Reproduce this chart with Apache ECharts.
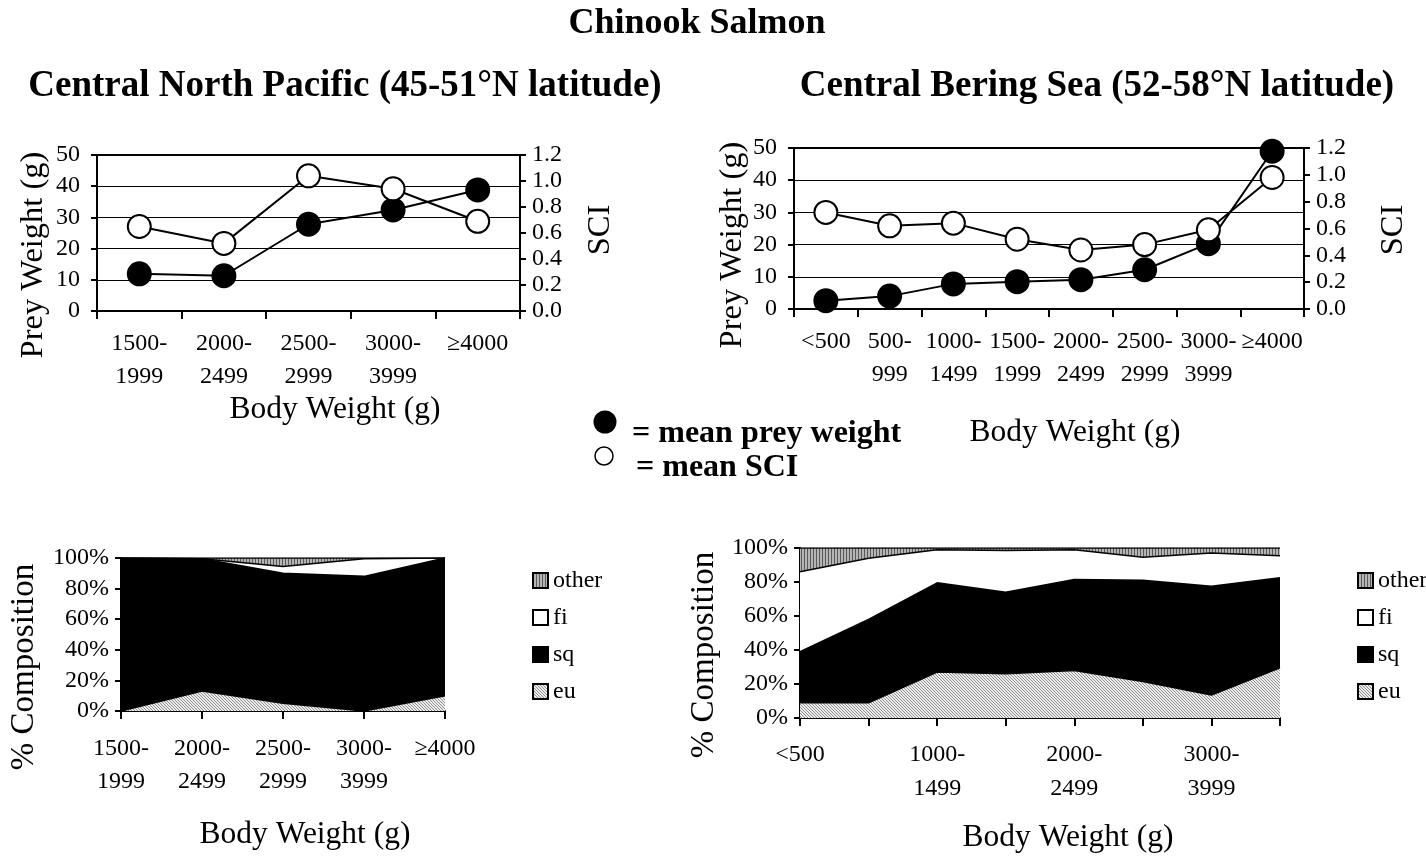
<!DOCTYPE html>
<html>
<head>
<meta charset="utf-8">
<script src="https://cdn.jsdelivr.net/npm/echarts@6/dist/echarts.min.js"></script>
<style>
  html, body { margin: 0; padding: 0; background: #fff; }
  #chart { width: 1426px; height: 861px; }
</style>
</head>
<body>
<div id="chart"></div>
<script>
// Body-weight classes (g)
const pacificCats = ['1500-\n1999', '2000-\n2499', '2500-\n2999', '3000-\n3999', '≥4000'];
const beringCats = ['<500', '500-\n999', '1000-\n1499', '1500-\n1999', '2000-\n2499', '2500-\n2999', '3000-\n3999', '≥4000'];

// Mean prey weight (g) and mean stomach content index
const pacificPrey = [11.9, 11.3, 27.8, 32.4, 38.8];
const pacificSci = [0.65, 0.52, 1.04, 0.94, 0.69];
const beringPrey = [2.6, 4.0, 7.8, 8.5, 9.1, 12.2, 20.3, 49.0];
const beringSci = [0.72, 0.62, 0.64, 0.52, 0.44, 0.48, 0.59, 0.98];

// Diet composition (% by weight)
const pacificEu = [0, 13, 5, 0, 10];
const pacificSq = [100, 86.5, 85, 88, 90];
const pacificFi = [0, 0, 4.5, 11.5, 0];
const pacificOther = [0, 0.5, 5.5, 0.5, 0];

const beringEu = [9, 9, 27, 26, 28, 21.5, 13.5, 29.5];
const beringSq = [30, 49, 52.5, 48, 53.5, 59.5, 64, 53];
const beringFi = [47, 36, 19.5, 24.5, 17.5, 13.5, 19.5, 13];
const beringOther = [14, 6, 1, 1.5, 1, 5.5, 3, 4.5];

const prey = ['eu', 'sq', 'fi', 'other'];

const FONT = '"Liberation Serif", "Times New Roman", serif';

// Fill patterns for hatched prey groups
function makePattern(w, h, bg, fg, pixels) {
  const c = document.createElement('canvas');
  c.width = w; c.height = h;
  const ctx = c.getContext('2d');
  ctx.fillStyle = bg; ctx.fillRect(0, 0, w, h);
  ctx.fillStyle = fg;
  pixels.forEach(p => ctx.fillRect(p[0], p[1], 1, 1));
  return { image: c, repeat: 'repeat' };
}
const euFill = makePattern(3, 3, '#eeeeee', '#8c8c8c', [[0, 0], [1, 1], [2, 2]]);
const otherFill = makePattern(3, 1, '#b4b4b4', '#5a5a5a', [[0, 0]]);
const fills = { eu: euFill, sq: '#000000', fi: '#ffffff', other: otherFill };

const chart = echarts.init(document.getElementById('chart'), null, { renderer: 'canvas' });

const tickFont = { color: '#000', fontFamily: FONT, fontSize: 24 };

function catAxis(gridIndex, data, opts) {
  return Object.assign({
    type: 'category', gridIndex, data,
    axisLine: { lineStyle: { color: '#000', width: 2 } },
    axisTick: { show: true, length: 8, inside: false, lineStyle: { color: '#000', width: 2 } },
    axisLabel: Object.assign({ margin: 16, lineHeight: 33, interval: 0 }, tickFont),
    splitLine: { show: false }
  }, opts || {});
}

function preyAxis(gridIndex) {
  return {
    type: 'value', gridIndex, min: 0, max: 50, interval: 10, position: 'left',
    axisLine: { show: true, lineStyle: { color: '#000', width: 2 } },
    axisTick: { show: true, length: 6, lineStyle: { color: '#000', width: 2 } },
    axisLabel: Object.assign({ margin: 17 }, tickFont),
    splitLine: { show: true, lineStyle: { color: '#000', width: 1 } }
  };
}

function sciAxis(gridIndex) {
  return {
    type: 'value', gridIndex, min: 0, max: 1.2, interval: 0.2, position: 'right',
    axisLine: { show: true, lineStyle: { color: '#000', width: 2 } },
    axisTick: { show: true, length: 6, lineStyle: { color: '#000', width: 2 } },
    axisLabel: Object.assign({ margin: 12, formatter: v => v.toFixed(1) }, tickFont),
    splitLine: { show: false }
  };
}

function pctAxis(gridIndex) {
  return {
    type: 'value', gridIndex, min: 0, max: 100, interval: 20,
    axisLine: { show: true, lineStyle: { color: '#000', width: 2 } },
    axisTick: { show: true, length: 6, lineStyle: { color: '#000', width: 2 } },
    axisLabel: Object.assign({ margin: 12, formatter: v => v + '%' }, tickFont),
    splitLine: { show: false }
  };
}

function meanSeries(name, data, xi, yi, filled) {
  return {
    type: 'line', name, data, xAxisIndex: xi, yAxisIndex: yi,
    symbol: 'circle', symbolSize: 23, showAllSymbol: true,
    lineStyle: { color: '#000', width: 2 },
    itemStyle: { color: filled ? '#000' : '#fff', borderColor: '#000', borderWidth: 2, opacity: 1 },
    emphasis: { disabled: true },
    animation: false
  };
}

function compSeries(name, data, xi, yi, stack) {
  return {
    type: 'line', name, data, xAxisIndex: xi, yAxisIndex: yi, stack,
    symbol: 'none', showSymbol: false,
    lineStyle: { color: '#000', width: 1.5 },
    areaStyle: { color: fills[name], opacity: 1 },
    itemStyle: { color: fills[name] },
    emphasis: { disabled: true },
    z: 2,
    animation: false
  };
}

const pacificComp = { eu: pacificEu, sq: pacificSq, fi: pacificFi, other: pacificOther };
const beringComp = { eu: beringEu, sq: beringSq, fi: beringFi, other: beringOther };

function legendFor(left) {
  return {
    orient: 'vertical', left, top: 563,
    icon: 'rect', itemWidth: 15, itemHeight: 15, itemGap: 12,
    selectedMode: false,
    textStyle: { color: '#000', fontFamily: FONT, fontSize: 24, lineHeight: 25 },
    data: ['other', 'fi', 'sq', 'eu'].map(n => ({
      name: n,
      itemStyle: { color: fills[n], borderColor: '#000', borderWidth: 2 }
    }))
  };
}

function label(text, x, y, size, bold, rotation) {
  return {
    type: 'text', x, y, rotation: rotation || 0, silent: true,
    style: {
      text, fill: '#000',
      font: (bold ? 'bold ' : '') + size + 'px ' + FONT,
      textAlign: 'center', textVerticalAlign: 'middle', align: 'center', verticalAlign: 'middle'
    }
  };
}

const UP = Math.PI / 2;

const option = {
  backgroundColor: '#fff',
  animation: false,
  grid: [
    { left: 97, right: 906, top: 155, height: 156, show: true, borderColor: '#000', borderWidth: 2, backgroundColor: 'transparent' },
    { left: 794, right: 122, top: 148, height: 161, show: true, borderColor: '#000', borderWidth: 2, backgroundColor: 'transparent' },
    { left: 121, right: 981, top: 558, height: 153 },
    { left: 800, right: 146, top: 548, height: 170 }
  ],
  xAxis: [
    catAxis(0, pacificCats, { boundaryGap: true }),
    catAxis(1, beringCats, { boundaryGap: true }),
    catAxis(2, pacificCats, { boundaryGap: false, axisLabel: Object.assign({ margin: 21, lineHeight: 33, interval: 0 }, tickFont),
      axisTick: { show: true, interval: 0, length: 8, lineStyle: { color: '#000', width: 2 } } }),
    catAxis(3, beringCats, { boundaryGap: false, axisLabel: Object.assign({ margin: 20, lineHeight: 34, interval: 1 }, tickFont),
      axisTick: { show: true, interval: 0, length: 8, lineStyle: { color: '#000', width: 2 } } })
  ],
  yAxis: [
    preyAxis(0),
    sciAxis(0),
    preyAxis(1),
    sciAxis(1),
    pctAxis(2),
    pctAxis(3)
  ],
  legend: [legendFor(527), legendFor(1352)],
  series: [
    meanSeries('mean prey weight', pacificPrey, 0, 0, true),
    meanSeries('mean SCI', pacificSci, 0, 1, false),
    meanSeries('mean prey weight', beringPrey, 1, 2, true),
    meanSeries('mean SCI', beringSci, 1, 3, false)
  ].concat(
    prey.map(p => compSeries(p, pacificComp[p], 2, 4, 'pacific')),
    prey.map(p => compSeries(p, beringComp[p], 3, 5, 'bering'))
  ),
  graphic: [
    label('Chinook Salmon', 697, 24, 36, true),
    label('Central North Pacific (45-51°N latitude)', 345, 86, 37, true),
    label('Central Bering Sea (52-58°N latitude)', 1097, 86, 37, true),
    // axis titles
    label('Prey Weight (g)', 33, 255, 32.5, false, UP),
    label('SCI', 600, 230, 32.5, false, UP),
    label('Prey Weight (g)', 732, 245, 32.5, false, UP),
    label('SCI', 1393, 230, 32.5, false, UP),
    label('% Composition', 24, 667, 33, false, UP),
    label('% Composition', 704, 655, 33, false, UP),
    label('Body Weight (g)', 335, 410, 31.5, false),
    label('Body Weight (g)', 1075, 433, 31.5, false),
    label('Body Weight (g)', 305, 835, 31.5, false),
    label('Body Weight (g)', 1068, 838, 31.5, false),
    // symbol key
    { type: 'circle', silent: true, shape: { cx: 605, cy: 422, r: 11.5 }, style: { fill: '#000' } },
    { type: 'circle', silent: true, shape: { cx: 604, cy: 456, r: 9 }, style: { fill: '#fff', stroke: '#000', lineWidth: 1.5 } },
    { type: 'text', x: 632, y: 434, silent: true,
      style: { text: '= mean prey weight', fill: '#000', font: 'bold 32px ' + FONT,
        textAlign: 'left', textVerticalAlign: 'middle', align: 'left', verticalAlign: 'middle' } },
    { type: 'text', x: 636, y: 468, silent: true,
      style: { text: '= mean SCI', fill: '#000', font: 'bold 32px ' + FONT,
        textAlign: 'left', textVerticalAlign: 'middle', align: 'left', verticalAlign: 'middle' } }
  ]
};

chart.setOption(option);
</script>
</body>
</html>
